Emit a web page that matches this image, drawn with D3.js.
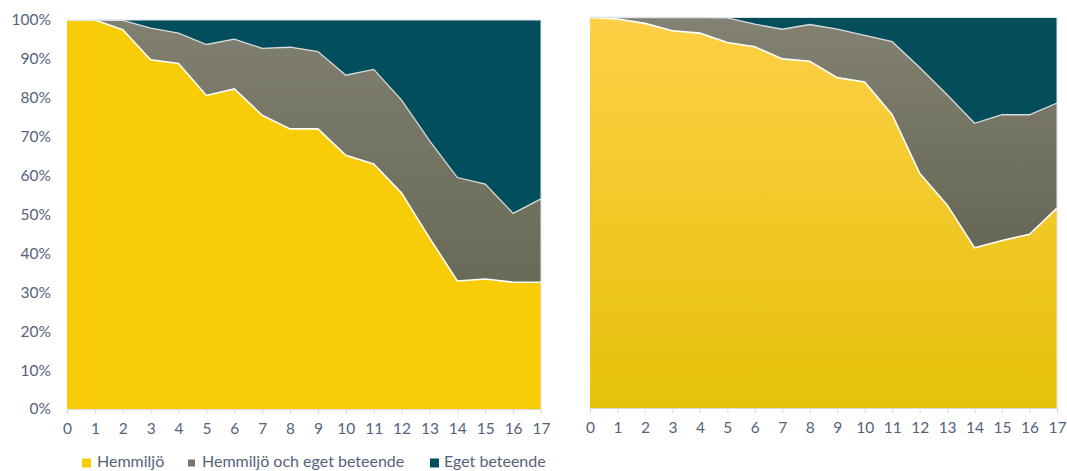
<!DOCTYPE html>
<html><head><meta charset="utf-8">
<script src="https://cdn.jsdelivr.net/npm/d3@7"></script>
<style>
html,body{margin:0;padding:0;background:#fff;}
svg{display:block;font-family:Lato,"Open Sans",sans-serif;}
</style></head>
<body>
<svg id="c" width="1067" height="471"></svg>
<script>
const ages = [0,1,2,3,4,5,6,7,8,9,10,11,12,13,14,15,16,17];
const yTicks = [0,10,20,30,40,50,60,70,80,90,100];
const seriesNames = ["Hemmiljö","Hemmiljö och eget beteende","Eget beteende"];

// Left panel (percent)
const leftHemmiljo = [100,100,97.5,89.8,88.8,80.6,82.3,75.5,72,72,65.2,63,55.5,44,32.9,33.4,32.6,32.6];
const leftBoth     = [0,0,2.4,8.1,7.8,13.1,12.8,17.2,21,19.9,20.6,24.3,23.9,25,26.6,24.4,17.7,21.4];
const leftEget     = [0,0,0.1,2.1,3.4,6.3,4.9,7.3,7,8.1,14.2,12.7,20.6,31,40.5,42.2,49.7,46];

// Right panel (percent)
const rightHemmiljo = [100,99.6,98.5,96.6,96,93.6,92.5,89.4,88.8,84.6,83.5,75.1,60.1,52,41,42.9,44.5,51.2];
const rightBoth     = [0,0.4,1.5,3.4,4,6.3,5.8,7.6,9.4,12.4,11.9,18.7,27.1,28.2,31.9,32.2,30.6,26.9];
const rightEget     = [0,0,0,0,0,0.1,1.7,3,1.8,3,4.6,6.2,12.8,19.8,27.1,24.9,24.9,21.9];

const svg = d3.select("#c");
const defs = svg.append("defs");
function grad(id, top, bottom){
  const g = defs.append("linearGradient").attr("id",id).attr("x1",0).attr("y1",0).attr("x2",0).attr("y2",1);
  g.append("stop").attr("offset","0%").attr("stop-color",top);
  g.append("stop").attr("offset","100%").attr("stop-color",bottom);
}
grad("grayL","#807f70","#6a6a58");
grad("yellowR","#fdd046","#e4c20a");
grad("grayR","#828173","#676755");

const textColor = "#56627a";
const keys = ["h","b","e"];

function panel(x0, x1, yTop, yBot, H, B, E, fills, showY){
  const data = ages.map((a,i)=>({age:a,h:H[i],b:B[i],e:E[i]}));
  const stack = d3.stack().keys(keys)(data);
  const x = d3.scaleLinear().domain([0,17]).range([x0,x1]);
  const y = d3.scaleLinear().domain([0,100]).range([yBot,yTop]);
  const g = svg.append("g");
  const area = d3.area().x(d=>x(d.data.age)).y0(d=>y(d[0])).y1(d=>y(d[1]));
  g.selectAll("path.a").data(stack).join("path").attr("class","a")
    .attr("d",area).attr("fill",(d,i)=>fills[i]);
  const line = d3.line().x(d=>x(d.data.age)).y(d=>y(d[1]));
  g.append("path").attr("d",line(stack[1])).attr("fill","none").attr("stroke","#d8dcdc").attr("stroke-width",1.3);
  g.append("path").attr("d",line(stack[0])).attr("fill","none").attr("stroke","#ffffff").attr("stroke-width",1.6);
  g.append("line").attr("x1",x0).attr("x2",x1).attr("y1",yTop).attr("y2",yTop).attr("stroke","#dfe3ea").attr("stroke-width",1);
  g.append("line").attr("x1",x1).attr("x2",x1).attr("y1",yTop).attr("y2",yBot).attr("stroke","#e3e6ea").attr("stroke-width",1);
  const xa = g.append("g").attr("transform",`translate(0,${yBot})`)
    .call(d3.axisBottom(x).tickValues(ages).tickFormat(d3.format("d")).tickSize(5).tickPadding(9));
  xa.select(".domain").attr("stroke","#d9d9d9");
  xa.selectAll(".tick line").attr("stroke","#d9d9d9");
  xa.selectAll("text").attr("fill",textColor).style("font-size","15.5px").style("font-family","Lato,sans-serif");
  if(showY){
    const ya = g.append("g").attr("transform",`translate(${x0},0)`)
      .call(d3.axisLeft(y).tickValues(yTicks).tickFormat(d=>d+"%").tickSize(0).tickPadding(16));
    ya.select(".domain").remove();
    ya.selectAll("text").attr("fill",textColor).style("font-size","15.5px").style("font-family","Lato,sans-serif");
  }
}

panel(67, 541, 20, 409, leftHemmiljo, leftBoth, leftEget, ["#f8cd07","url(#grayL)","#034e5c"], true);
panel(590, 1057, 17.5, 408, rightHemmiljo, rightBoth, rightEget, ["url(#yellowR)","url(#grayR)","#044e5b"], false);

const legend = [
  {name:seriesNames[0], color:"#f8cd07", sx:82, size:9, tx:97},
  {name:seriesNames[1], color:"#77766a", sx:188, size:7, tx:202},
  {name:seriesNames[2], color:"#034e5c", sx:430, size:9, tx:444}
];
const lg = svg.append("g");
legend.forEach(l=>{
  lg.append("rect").attr("x",l.sx).attr("y",463-l.size/2).attr("width",l.size).attr("height",l.size).attr("fill",l.color);
  lg.append("text").attr("x",l.tx).attr("y",467).attr("fill",textColor)
    .style("font-size","16px").style("font-family","Lato,sans-serif").text(l.name);
});
</script>
</body></html>
